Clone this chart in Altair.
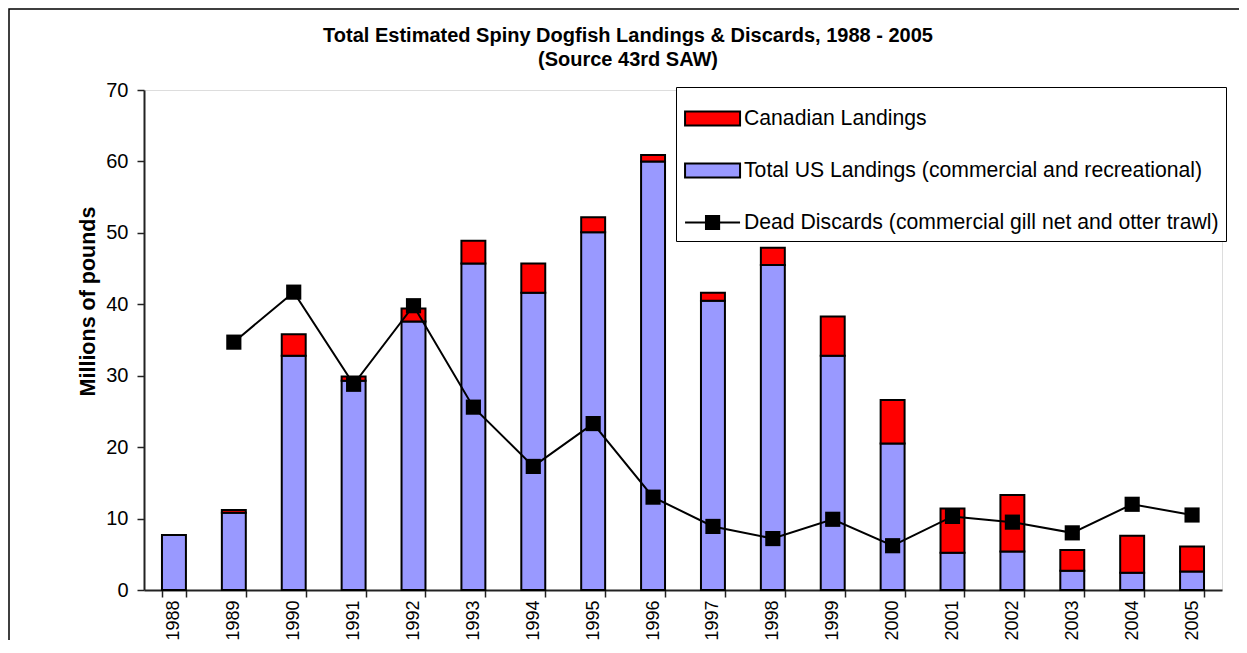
import altair as alt
import pandas as pd

years = [str(y) for y in range(1988, 2006)]
us_landings = [7.7, 10.8, 32.8, 29.3, 37.6, 45.7, 41.6, 50.1, 60.0, 40.5,
               45.5, 32.8, 20.5, 5.2, 5.4, 2.7, 2.4, 2.6]
canadian_landings = [0.0, 0.4, 3.0, 0.6, 1.8, 3.2, 4.1, 2.1, 0.9, 1.1,
                     2.4, 5.5, 6.1, 6.2, 7.9, 2.9, 5.2, 3.5]
dead_discards = [None, 34.7, 41.7, 28.8, 39.8, 25.6, 17.3, 23.3, 13.0, 8.9,
                 7.2, 9.9, 6.2, 10.3, 9.5, 8.0, 12.0, 10.5]

series_names = [
    "Canadian Landings",
    "Total US Landings (commercial and recreational)",
    "Dead Discards (commercial gill net and otter trawl)",
]
series_colors = ["#FF0000", "#9999FF", "#000000"]

title_lines = ["Total Estimated Spiny Dogfish Landings & Discards, 1988 - 2005",
               "(Source 43rd SAW)"]
y_title = "Millions of pounds"

FONT = "Liberation Sans"

rows = []
for i, yr in enumerate(years):
    rows.append({"year": yr, "series": series_names[1], "value": us_landings[i], "order": 0})
    if canadian_landings[i] > 0:
        rows.append({"year": yr, "series": series_names[0], "value": canadian_landings[i], "order": 1})
bars_df = pd.DataFrame(rows)

disc_df = pd.DataFrame({"year": years, "discards": dead_discards}).dropna()

x_enc = alt.X(
    "year:N",
    sort=years,
    scale=alt.Scale(domain=years, paddingInner=0.6, paddingOuter=0.3),
    axis=alt.Axis(
        title=None, labelAngle=270, labelFontSize=18, labelFont=FONT,
        labelColor="black", labelPadding=3, tickBand="extent", tickSize=7,
        tickColor="#222222", tickWidth=1.5, domainColor="#222222", domainWidth=2,
    ),
)
y_scale = alt.Scale(domain=[0, 70], nice=False)

legend_shape = (
    "datum.value == '" + series_names[2] + "' ? "
    "'M-0.955,0H-0.065M-0.065,-0.28H0.495V0.28H-0.065ZM0.495,0H1.385' : "
    "'M-0.955,-0.3H1.385V0.3H-0.955Z'"
)

frame = alt.Chart(pd.DataFrame({"a": [0]})).mark_rect(
    filled=False, stroke="black", strokeWidth=1.5
).encode(
    x=alt.value(-135), x2=alt.value(1150), y=alt.value(-81), y2=alt.value(640)
)

bars = alt.Chart(bars_df).mark_bar(stroke="black", strokeWidth=2, opacity=1).encode(
    x=x_enc,
    y=alt.Y(
        "value:Q", stack="zero", scale=y_scale,
        axis=alt.Axis(
            title=y_title, values=[0, 10, 20, 30, 40, 50, 60, 70], grid=False,
            labelFontSize=20, labelFont=FONT, labelColor="black", labelPadding=9,
            tickSize=7, tickColor="#222222", tickWidth=1.5,
            domainColor="#222222", domainWidth=2,
            titleFont=FONT, titleFontSize=21.5, titleFontWeight="bold",
            titleColor="black", titleAngle=270, titleX=-56, titleY=211,
            titleAlign="center", titleBaseline="middle",
        ),
    ),
    color=alt.Color(
        "series:N",
        scale=alt.Scale(domain=series_names, range=series_colors),
        legend=alt.Legend(
            title=None, orient="none", legendX=532, legendY=-3,
            padding=7, rowPadding=16, fillColor="white", strokeColor="black",
            cornerRadius=0,
            symbolType=alt.ExprRef(expr=legend_shape), symbolSize=2209,
            symbolStrokeColor="black", symbolStrokeWidth=2, symbolOpacity=1,
            labelFont=FONT, labelFontSize=21.2, labelColor="black", labelLimit=0,
            labelOffset=12,
        ),
    ),
    order=alt.Order("order:Q"),
)

line = alt.Chart(disc_df).mark_line(color="black", strokeWidth=2).encode(
    x=alt.X("year:N", sort=years),
    y=alt.Y("discards:Q", scale=y_scale),
)
points = alt.Chart(disc_df).mark_square(color="black", size=230, opacity=1).encode(
    x=alt.X("year:N", sort=years),
    y=alt.Y("discards:Q", scale=y_scale),
)

chart = alt.layer(frame, bars, line, points).properties(
    width=1078,
    height=500,
    padding={"left": 136, "top": 82, "right": 17, "bottom": 50},
    autosize=alt.AutoSizeParams(type="none"),
    title=alt.TitleParams(
        text=title_lines, font=FONT, fontSize=20, fontWeight="bold",
        color="black", anchor="middle", frame="group", dx=-55, offset=-62,
        lineHeight=24,
    ),
).configure_view(
    stroke="#808080", strokeWidth=1.5
).configure(background="white")

chart.save("out.html", embed_options={"renderer": "svg", "actions": False})
